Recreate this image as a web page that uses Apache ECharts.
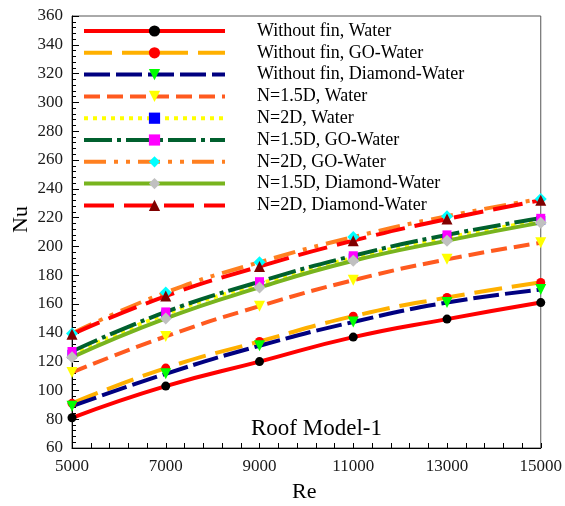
<!DOCTYPE html>
<html>
<head>
<meta charset="utf-8">
<script src="https://cdn.jsdelivr.net/npm/echarts@6/dist/echarts.min.js"></script>
<style>
  html, body { margin: 0; padding: 0; background: #fff; }
  #chart { width: 565px; height: 506px; }
</style>
</head>
<body>
<div id="chart"></div>
<script>
// Reynolds number stations where Nu was evaluated
const reValues = [5000, 7000, 9000, 11000, 13000, 15000];
// Tick positions along the Re axis (every 400), labelled every 2000
const reTicks = ['5000', '5400', '5800', '6200', '6600', '7000', '7400', '7800', '8200', '8600',
  '9000', '9400', '9800', '10200', '10600', '11000', '11400', '11800', '12200', '12600',
  '13000', '13400', '13800', '14200', '14600', '15000'];

// Nusselt number for each configuration
const withoutFinWater   = [81, 103, 120, 137, 149.5, 161];
const withoutFinGO      = [91, 115.5, 134, 151.5, 164.5, 175];
const withoutFinDiamond = [89, 111.5, 131, 147.5, 161, 170];
const n15Water          = [112.5, 137.5, 158.5, 176.5, 191, 202.5];
const n2Water           = [125, 153, 174, 192, 206, 218];
const n15GO             = [127, 154.5, 175.5, 193.5, 208, 219.5];
const n2GO              = [139.5, 168, 189, 206.5, 221, 233];
const n15Diamond        = [123, 150, 171.5, 190, 204, 216.5];
const n2Diamond         = [139, 165.5, 186, 204, 219, 232];

const seriesNames = [
  'Without fin, Water', 'Without fin, GO-Water', 'Without fin, Diamond-Water',
  'N=1.5D, Water', 'N=2D, Water', 'N=1.5D, GO-Water', 'N=2D, GO-Water',
  'N=1.5D, Diamond-Water', 'N=2D, Diamond-Water'
];
const seriesValues = [withoutFinWater, withoutFinGO, withoutFinDiamond, n15Water, n2Water,
  n15GO, n2GO, n15Diamond, n2Diamond];

// Line and marker appearance per series
const styles = [
  { line: '#ff0000', dash: 'solid', sym: 'circle', symColor: '#000000', size: 9, rot: 0 },
  { line: '#ffb000', dash: [28, 10], sym: 'circle', symColor: '#ff0000', size: 9, rot: 0 },
  { line: '#000080', dash: [26, 6], sym: 'triangle', symColor: '#00ff00', size: 11, rot: 180 },
  { line: '#ff5a1f', dash: [16, 7], sym: 'triangle', symColor: '#ffff00', size: 11, rot: 180 },
  { line: '#ffff00', dash: [4, 5], sym: 'rect', symColor: '#0000ff', size: 9, rot: 0 },
  { line: '#00602e', dash: [28, 5, 4, 5], sym: 'rect', symColor: '#ff00ff', size: 9, rot: 0 },
  { line: '#ff8020', dash: [22, 8, 4, 8, 4, 8], sym: 'diamond', symColor: '#00ffff', size: 12, rot: 0 },
  { line: '#78b41e', dash: 'solid', sym: 'diamond', symColor: '#c0c0c0', size: 12, rot: 0 },
  { line: '#ff0000', dash: [30, 10], sym: 'triangle', symColor: '#800000', size: 11, rot: 0 }
];

const FONT = 'Liberation Serif';

const series = seriesNames.map(function (name, i) {
  const s = styles[i];
  return {
    name: name,
    type: 'line',
    smooth: true,
    data: reValues.map(function (re, k) { return [String(re), seriesValues[i][k]]; }),
    symbol: s.sym,
    symbolSize: s.size,
    symbolRotate: s.rot,
    showSymbol: true,
    lineStyle: { color: s.line, width: 4, type: s.dash, cap: 'butt' },
    itemStyle: { color: s.symColor, borderWidth: 0 },
    emphasis: { disabled: true }
  };
});

const chart = echarts.init(document.getElementById('chart'), null, { renderer: 'canvas' });
chart.setOption({
  animation: false,
  backgroundColor: '#ffffff',
  grid: {
    left: 72, right: 22, top: 16, bottom: 58,
    show: true, borderColor: '#555555', borderWidth: 1, backgroundColor: 'transparent'
  },
  legend: {
    orient: 'vertical',
    left: 82,
    top: 22,
    padding: 0,
    itemWidth: 141,
    itemHeight: 14,
    itemGap: 3.8,
    data: seriesNames,
    lineStyle: { width: 4 },
    textStyle: {
      fontFamily: FONT, fontSize: 18, color: '#000000', lineHeight: 18,
      padding: [0, 0, 0, 27]
    },
    selectedMode: false
  },
  xAxis: {
    type: 'category',
    data: reTicks,
    boundaryGap: false,
    axisLine: { show: true, lineStyle: { color: '#000000', width: 1 } },
    axisTick: { show: true, inside: true, interval: 0, length: 5, lineStyle: { color: '#000000' } },
    axisLabel: {
      interval: 4, margin: 10, fontFamily: FONT, fontSize: 17, color: '#1a1a1a'
    },
    splitLine: { show: false }
  },
  yAxis: {
    type: 'value',
    min: 60, max: 360, interval: 20,
    axisLine: { show: true, lineStyle: { color: '#000000', width: 1 } },
    axisTick: { show: true, inside: true, length: 7, lineStyle: { color: '#000000' } },
    minorTick: { show: true, splitNumber: 5, length: 4, lineStyle: { color: '#000000' } },
    axisLabel: { margin: 9, fontFamily: FONT, fontSize: 17, color: '#1a1a1a' },
    splitLine: { show: false }
  },
  graphic: [
    {
      type: 'text', left: 10, top: 206, rotation: Math.PI / 2,
      style: { text: 'Nu', fontFamily: FONT, fontSize: 22, fill: '#000000' }
    },
    {
      type: 'text', left: 292, top: 481,
      style: { text: 'Re', fontFamily: FONT, fontSize: 22, fill: '#000000' }
    },
    {
      type: 'text', left: 251, top: 417,
      style: { text: 'Roof Model-1', fontFamily: FONT, fontSize: 23, fill: '#000000' }
    }
  ],
  series: series
});
</script>
</body>
</html>
